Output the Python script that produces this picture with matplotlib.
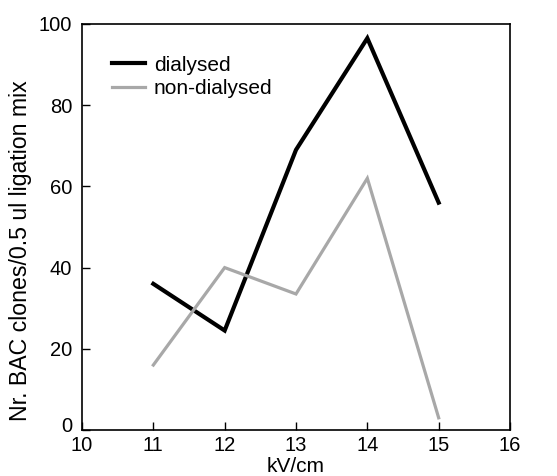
import matplotlib
matplotlib.use("Agg")
import matplotlib.pyplot as plt
import matplotlib.transforms as mtransforms

plt.rcParams['font.family'] = ['Liberation Sans', 'DejaVu Sans']

kv = [11, 12, 13, 14, 15]
dialysed = [36, 24.5, 69, 96.5, 56]
non_dialysed = [16, 40, 33.5, 62, 3]
x_ticks = [10, 11, 12, 13, 14, 15, 16]
y_ticks = [0, 20, 40, 60, 80, 100]

fig = plt.figure(figsize=(5.57, 4.76), dpi=100)
ax = fig.add_axes([82/557, 1-430/476, (510-82)/557, (430-24)/476])

ax.plot(kv, dialysed, color='black', lw=3.0, solid_joinstyle='miter', label='dialysed')
ax.plot(kv, non_dialysed, color='#a8a8a8', lw=2.3, solid_joinstyle='miter', label='non-dialysed')

ax.set_xlim(10, 16)
ax.set_ylim(0, 100)
ax.set_xticks(x_ticks)
ax.set_yticks(y_ticks)
ax.tick_params(direction='in', length=6, width=1, labelsize=14.5, top=False, right=False)
ax.tick_params(axis='x', pad=4)
ax.tick_params(axis='y', pad=7)
for s in ax.spines.values():
    s.set_linewidth(1.2)

# shift the y "0" label up a little, as in the reference
ylab0 = ax.get_yticklabels()[0]
ylab0.set_transform(ylab0.get_transform() + mtransforms.ScaledTranslation(0, 6/100, fig.dpi_scale_trans))

ax.set_xlabel('kV/cm', fontsize=15, labelpad=2)
ax.set_ylabel('Nr. BAC clones/0.5 ul ligation mix', fontsize=16.7)
ax.yaxis.set_label_coords(-0.117, 0.443)

leg = ax.legend(loc='upper left', bbox_to_anchor=(0.07, 0.922), frameon=False, fontsize=15,
                handlelength=1.6, handletextpad=0.4, labelspacing=0.2, borderaxespad=0,
                borderpad=0)

fig.savefig('out.png', dpi=100)
